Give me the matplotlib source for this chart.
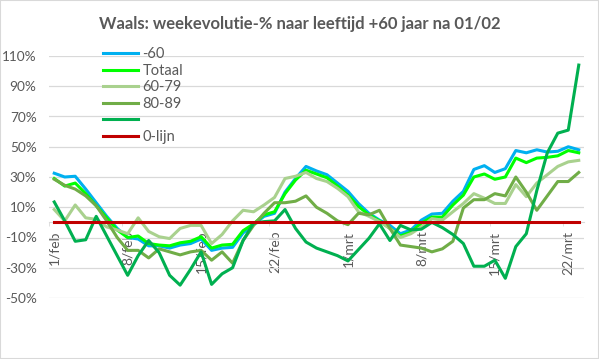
import numpy as np
import matplotlib
matplotlib.use("Agg")
import matplotlib.pyplot as plt
from matplotlib.patches import Rectangle
from matplotlib.ticker import FuncFormatter

# weekly evolution in %, one value per day from 1/feb to 23/mrt
min60 = [32.5, 30, 30.5, 22, 13, 4, -4, -10, -11, -15.5, -15.5, -17, -15, -14, -11, -18.5, -17,
         -16.5, -7, -1.5, 4, 6, 20, 29, 37, 34, 31.5, 26, 20.5, 12.5, 6, 1.5, -2, -7.5, -5, 1.5,
         5.5, 6, 14, 20.5, 35, 37.5, 33, 35.5, 47.5, 46, 48, 46.5, 47, 50, 48]
totaal = [29, 24, 26, 19, 11, 3, -5, -10, -9, -14, -15, -15.5, -13.5, -12.5, -9.5, -17, -15,
          -14.5, -5.5, -1, 5, 7, 19, 28, 34.5, 32, 29.5, 24, 18, 10.5, 5, 1, -4, -9, -6.5, -0.5,
          3.5, 3.5, 11.5, 18, 30, 32, 28.5, 30, 42.5, 39.5, 42.5, 43, 44, 47.5, 46]
age60_79 = [8.5, 1, 11.5, 3, 2, -3, -5, -7.5, 3, -6, -9.5, -10.7, -4, -2, -2, -14, -8, 1, 8, 7,
            11.5, 16.5, 29, 30.5, 33, 29, 27, 22.5, 17, 7, 4, 0.5, -4, -10, -7.5, -3, 2.5, 1.5,
            7, 12.5, 19, 16, 12.5, 12.5, 25, 17, 26, 31.5, 37, 40, 41]
age80_89 = [28.5, 24.5, 22, 17.5, 11, 1, -10, -18.5, -18.5, -23.5, -17.5, -19.5, -21.5, -19.5,
            -18.5, -25, -19.5, -27, -12, -2, 6, 13, 13, 14, 17.5, 10, 6, 1, -1.5, 6, 5, 8, -4,
            -15, -16, -17, -19.5, -17.5, -12.5, 9.5, 15, 15, 19, 17.5, 30, 20, 8, 17.5, 27, 27, 33]
age90 = [13.5, 1, -12.5, -11.5, 4, -9, -22, -35, -22, -12, -20, -35, -41.5, -31, -19.5, -41,
         -34, -30, -12, -0.5, 0.5, 1, 8.5, -4, -13, -17, -19.5, -22, -25.5, -18, -10.5, -1, -12,
         -2, -5, -4.5, 0, -3.5, -8, -14, -29, -29, -25, -37, -16, -7.5, 21, 46, 59, 61, 104]
nul_lijn = [0] * len(min60)

labels = ["-60", "Totaal", "60-79", "80-89", " ", "0-lijn"]
tick_days = [0, 7, 14, 21, 28, 35, 42, 49]
tick_labels = ["1/feb", "8/feb", "15/feb", "22/feb", "1/mrt", "8/mrt", "15/mrt", "22/mrt"]
y_ticks = [-50, -30, -10, 10, 30, 50, 70, 90, 110]

colors = ["#00b0f0", "#00ff00", "#a9d18e", "#70ad47", "#00b050", "#c00000"]
grey = "#595959"

plt.rcParams['font.family'] = ['Lato', 'DejaVu Sans']

fig = plt.figure(figsize=(5.99, 3.59), dpi=100)
ax = fig.add_axes([49/599, 1 - 298/359, 535/599, 242/359])

x = np.arange(len(min60))
handles = []
for i, (series, c, lab) in enumerate(zip([min60, totaal, age60_79, age80_89, age90, nul_lijn],
                                         colors, labels)):
    h, = ax.plot(x, series, color=c, lw=2.2, label=lab, zorder=3 + i * 0.1)
    handles.append(h)

ax.set_xlim(-0.5, len(min60) - 0.5)
ax.set_ylim(-50, 110)
ax.set_yticks(y_ticks)
ax.yaxis.set_major_formatter(FuncFormatter(lambda v, p: f"{int(v)}%"))
ax.grid(axis='y', color='#d9d9d9', lw=0.9)
ax.set_axisbelow(True)

for s in ['top', 'right', 'left']:
    ax.spines[s].set_visible(False)
ax.spines['bottom'].set_position(('data', 0))
ax.spines['bottom'].set_color('#d9d9d9')
ax.spines['bottom'].set_zorder(1)

ax.set_xticks(tick_days)
ax.set_xticklabels(tick_labels, rotation=90)
ax.set_xticks(np.arange(-0.5, len(min60), 7), minor=True)
ax.tick_params(axis='x', which='major', length=0, pad=6, labelsize=10, labelcolor=grey)
ax.tick_params(axis='x', which='minor', length=3, color='#d9d9d9', direction='out')
ax.tick_params(axis='y', length=0, pad=9, labelsize=9.8, labelcolor=grey)

ax.legend(handles, labels, loc='upper left', bbox_to_anchor=(103/599, 1 - 47/359),
          bbox_transform=fig.transFigure, frameon=False, fontsize=10.5, labelcolor=grey,
          handlelength=2.4, handletextpad=0.3, labelspacing=0.18, borderpad=0, borderaxespad=0)

fig.text(0.5, 1 - 24/359, "Waals: weekevolutie-% naar leeftijd +60 jaar na 01/02",
         ha='center', va='center', fontsize=12, fontweight='bold', color=grey)

fig.patches.append(Rectangle((0, 0), 1, 1, transform=fig.transFigure, fill=False,
                             edgecolor='#d9d9d9', lw=1.5))

plt.savefig("out.png", dpi=100)
